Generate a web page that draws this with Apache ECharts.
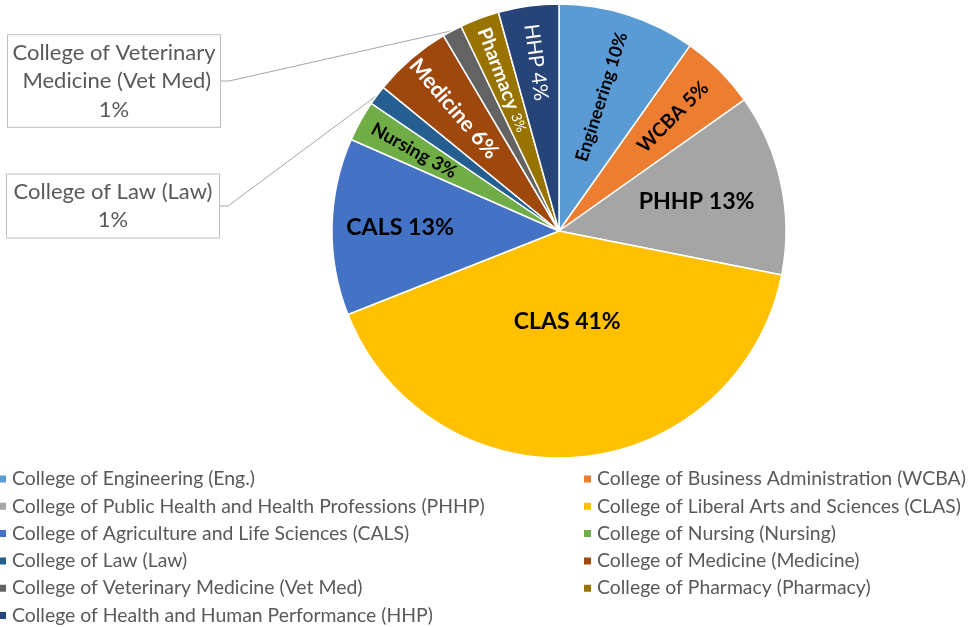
<!DOCTYPE html>
<html>
<head>
<meta charset="utf-8">
<script src="https://cdn.jsdelivr.net/npm/echarts@6/dist/echarts.min.js"></script>
<style>
  html, body { margin: 0; padding: 0; background: #fff; }
  #chart { width: 973px; height: 627px; }
</style>
</head>
<body>
<div id="chart"></div>
<script>
// 各学院占比（从图上估读，单位 %）
var collegeNames = [
  "College of Engineering (Eng.)",
  "College of Business Administration (WCBA)",
  "College of Public Health and Health Professions (PHHP)",
  "College of Liberal Arts and Sciences (CLAS)",
  "College of Agriculture and Life Sciences (CALS)",
  "College of Nursing (Nursing)",
  "College of Law (Law)",
  "College of Medicine (Medicine)",
  "College of Veterinary Medicine (Vet Med)",
  "College of Pharmacy (Pharmacy)",
  "College of Health and Human Performance (HHP)"
];
var shortNames = ["Engineering", "WCBA", "PHHP", "CLAS", "CALS", "Nursing", "Law", "Medicine", "Vet Med", "Pharmacy", "HHP"];
var shares = [9.8, 5.4, 12.9, 40.9, 12.6, 2.9, 1.4, 5.6, 1.4, 2.8, 4.3];

// 样式
var colors = ["#5B9BD5", "#ED7D31", "#A5A5A5", "#FFC000", "#4472C4", "#70AD47",
              "#255E91", "#9E480E", "#636363", "#997300", "#264478"];
var R = 227;
var labelRadius = [0.62, 0.71, 0.62, 0.40, 0.70, 0.73, 0, 0.71, 0, 0.71, 0.75]; // 占半径比例
var labelRotate = ["radial", "radial", 0, 0, 0, "radial", 0, "radial", 0, "radial", "radial"];
var labelColor = ["#000", "#000", "#000", "#000", "#000", "#000", "#595959", "#fff", "#595959", "#fff", "#fff"];
var labelSize = [18, 19.5, 23.2, 23, 23.2, 18.5, 22, 21.5, 22, 19.5, 20.5];
var calloutPos = { 6: [113, 206], 8: [114, 81] }; // 引出框中心

var FONT = "Lato, 'Open Sans', sans-serif";

// 每块中间角度（从 12 点钟顺时针）
var total = shares.reduce(function (a, b) { return a + b; }, 0);
var midAngles = [];
var acc = 0;
for (var i = 0; i < shares.length; i++) {
  midAngles.push((acc + shares[i] / 2) / total * Math.PI * 2);
  acc += shares[i];
}

var pieData = shares.map(function (v, i) {
  var item = {
    value: v,
    name: collegeNames[i],
    itemStyle: { color: colors[i] },
    label: {
      rotate: labelRotate[i],
      color: labelColor[i],
      fontSize: labelSize[i]
    }
  };
  if (calloutPos[i]) {
    item.label = {
      position: "outside",
      rotate: 0,
      color: "#595959",
      fontSize: labelSize[i],
      fontWeight: "normal",
      lineHeight: 28.5,
      width: 206,
      overflow: "break",
      align: "center",
      backgroundColor: "#fff",
      borderColor: "#bfbfbf",
      borderWidth: 1,
      padding: [4, 3, 2, 3],
      formatter: function (p) { return p.name + "\n" + Math.round(p.percent) + "%"; }
    };
    item.labelLine = { show: true, length: 8, length2: 8, lineStyle: { color: "#a6a6a6", width: 1 } };
  }
  if (i === 9) {
    item.label.formatter = function (p) { return "{n|" + shortNames[p.dataIndex] + "} {p|" + Math.round(p.percent) + "%}"; };
    item.label.rich = {
      n: { color: "#fff", fontSize: 19.5, fontWeight: "bold", fontFamily: FONT },
      p: { color: "#fff", fontSize: 14, fontWeight: "normal", fontFamily: FONT }
    };
  }
  if (i === 10) {
    item.label.fontWeight = "normal";
  }
  return item;
});

var legendText = { color: "#595959", fontSize: 19.4, fontFamily: FONT, lineHeight: 20 };

var chart = echarts.init(document.getElementById("chart"));
chart.setOption({
  backgroundColor: "#fff",
  animation: false,
  legend: [
    {
      data: collegeNames.filter(function (n, i) { return i % 2 === 0; }),
      orient: "vertical",
      left: -3,
      top: 469,
      padding: 0,
      itemGap: 7.3,
      itemWidth: 9,
      itemHeight: 9,
      icon: "rect",
      selectedMode: false,
      textStyle: legendText
    },
    {
      data: collegeNames.filter(function (n, i) { return i % 2 === 1; }),
      orient: "vertical",
      left: 582,
      top: 469,
      padding: 0,
      itemGap: 7.3,
      itemWidth: 9,
      itemHeight: 9,
      icon: "rect",
      selectedMode: false,
      textStyle: legendText
    }
  ],
  series: [
    {
      type: "pie",
      center: [559, 231],
      radius: R,
      startAngle: 90,
      clockwise: true,
      avoidLabelOverlap: false,
      itemStyle: { borderColor: "#fff", borderWidth: 1.5 },
      label: {
        show: true,
        position: "inside",
        fontFamily: FONT,
        fontWeight: "bold",
        formatter: function (p) { return shortNames[p.dataIndex] + " " + Math.round(p.percent) + "%"; }
      },
      labelLine: { show: false },
      labelLayout: function (p) {
        var i = p.dataIndex;
        if (calloutPos[i]) {
          return { x: calloutPos[i][0], y: calloutPos[i][1], align: "center", verticalAlign: "middle" };
        }
        var shift = labelRadius[i] * R - R / 2 - 3;
        if (labelRotate[i] === "radial") {
          // 旋转后的标签，偏移量按标签自身方向计算
          var side = Math.sin(midAngles[i]) >= 0 ? 1 : -1;
          return { dx: side * shift, dy: 0 };
        }
        return { dx: shift * Math.sin(midAngles[i]), dy: -shift * Math.cos(midAngles[i]) };
      },
      emphasis: { disabled: true },
      data: pieData
    }
  ]
});
</script>
</body>
</html>
